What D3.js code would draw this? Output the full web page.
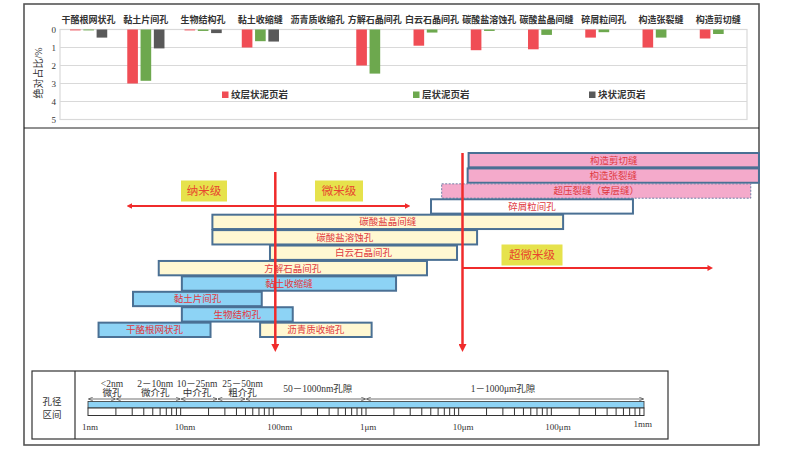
<!DOCTYPE html>
<html><head><meta charset="utf-8">
<script src="https://cdn.jsdelivr.net/npm/d3@7"></script>
<style>body{margin:0;background:#fff}svg{display:block}</style>
</head><body><svg id="c" width="793" height="452"></svg>
<script>
// ---------- top chart data ----------
const categories = ["干酪根网状孔","黏土片间孔","生物结构孔","黏土收缩缝","沥青质收缩孔","方解石晶间孔","白云石晶间孔","碳酸盐溶蚀孔","碳酸盐晶间缝","碎屑粒间孔","构造张裂缝","构造剪切缝"];
const seriesNames = ["纹层状泥页岩","层状泥页岩","块状泥页岩"];
const laminated = [0.05, 3.0, 0.05, 1.0, 0.02, 2.0, 0.9, 1.15, 1.1, 0.45, 1.0, 0.5];
const layered   = [0.05, 2.85, 0.08, 0.65, 0.02, 2.45, 0.17, 0.08, 0.3, 0.15, 0.45, 0.25];
const massive   = [0.45, 1.05, 0.2, 0.67, 0, 0, 0, 0, 0, 0, 0, 0];
const yTicks = [0,1,2,3,4,5];

// ---------- pore size range data (nm) ----------
const rangeNames = ["构造剪切缝","构造张裂缝","超压裂缝（穿层缝）","碎屑粒间孔","碳酸盐晶间缝","碳酸盐溶蚀孔","白云石晶间孔","方解石晶间孔","黏土收缩缝","黏土片间孔","生物结构孔","干酪根网状孔","沥青质收缩孔"];
const rangeMin = [12800, 12500, 6560, 5030, 22, 22, 92, 5.8, 10.3, 3.06, 10.3, 1.3, 72];
const rangeMax = [1.74e7, 1.74e7, 1.42e7, 7.6e5, 1.34e5, 15800, 9600, 4550, 2110, 75, 162, 21, 1150];
const rangeRow = [0,1,2,3,4,5,6,7,8,9,10,11,11];
const rangeType = ["tectonic","tectonic","overpressure","clastic","carbonate","carbonate","carbonate","carbonate","clay","clay","clay","clay","carbonate"];
const scaleBoundaries = [105, 11000];
const scaleLabels = ["纳米级","微米级","超微米级"];

// ---------- ruler data ----------
const rulerTicks = [1,10,100,1000,10000,100000,1000000];
const rulerTickLabels = ["1nm","10nm","100nm","1μm","10μm","100μm","1mm"];
const segBounds = [[1,2],[2,10],[10,25],[25,50],[50,1000],[1000,1000000]];
const segLine1 = ["<2nm","2－10nm","10－25nm","25－50nm","50－1000nm孔隙","1－1000μm孔隙"];
const segLine2 = ["微孔","微介孔","中介孔","粗介孔","",""];

const FONT = "'Liberation Serif','Noto Sans CJK SC',serif";
const svg = d3.select("#c");

// outer frame
svg.append("rect").attr("x",24).attr("y",4).attr("width",735).attr("height",441)
  .attr("fill","none").attr("stroke","#555").attr("stroke-width",1.6);
svg.append("line").attr("x1",24).attr("x2",759).attr("y1",128).attr("y2",128)
  .attr("stroke","#222").attr("stroke-width",1);

// ---------- top chart ----------
const x0 = d3.scaleBand().domain(categories).range([60,747]).paddingInner(0.35).paddingOuter(0.175);
const x1 = d3.scaleBand().domain(seriesNames).range([0,x0.bandwidth()]).paddingInner(0.2);
const y = d3.scaleLinear().domain([0,5]).range([29.5,119.5]);
const colors = d3.scaleOrdinal().domain(seriesNames).range(["#F04D55","#6DA84E","#595959"]);
const gTop = svg.append("g");
gTop.append("rect").attr("x",60).attr("y",y(0)).attr("width",687).attr("height",y(5)-y(0))
  .attr("fill","none").attr("stroke","#d9d9d9").attr("stroke-width",1.2);
gTop.selectAll(".grid").data(yTicks).join("line")
  .attr("x1",60).attr("x2",747).attr("y1",d=>y(d)).attr("y2",d=>y(d))
  .attr("stroke","#d9d9d9").attr("stroke-width",1.2);
gTop.selectAll(".yl").data(yTicks).join("text")
  .attr("x",56).attr("y",d=>y(d)).attr("dy","0.35em").attr("text-anchor","end")
  .attr("font-family",FONT).attr("font-size",9).attr("fill","#333").text(d=>d);
gTop.append("text").attr("transform","translate(38,73) rotate(-90)").attr("text-anchor","middle")
  .attr("dy","0.35em").attr("font-family",FONT).attr("font-size",10).attr("fill","#333").text("绝对占比/%");
gTop.selectAll(".cl").data(categories).join("text")
  .attr("x",d=>x0(d)+x0.bandwidth()/2).attr("y",20).attr("dy","0.35em").attr("text-anchor","middle")
  .attr("font-family",FONT).attr("font-size",9).attr("font-weight","bold").attr("fill","#333").text(d=>d);
const allSeries = [laminated, layered, massive];
seriesNames.forEach((s,si)=>{
  gTop.selectAll(".b"+si).data(categories).join("rect")
    .attr("x",c=>x0(c)+x1(s)).attr("width",x1.bandwidth())
    .attr("y",y(0)).attr("height",(c,i)=>Math.max(0,y(allSeries[si][i])-y(0)))
    .attr("fill",colors(s));
});
const legX = [222,413,589];
seriesNames.forEach((s,i)=>{
  gTop.append("rect").attr("x",legX[i]).attr("y",91.5).attr("width",6.5).attr("height",6.5).attr("fill",colors(s));
  gTop.append("text").attr("x",legX[i]+9).attr("y",95).attr("dy","0.35em")
    .attr("font-family",FONT).attr("font-size",9.5).attr("font-weight","bold").attr("fill","#333").text(s);
});

// ---------- pore size ranges ----------
const xs = d3.scaleLog().domain([1,1e6]).range([88,644]);
const yr = d3.scaleBand().domain(d3.range(12)).range([153,337]).paddingInner(0.07);
const fills = {clay:"#8DD3F5", carbonate:"#FFF8D2", clastic:"#FFFFFF", overpressure:"#F4AACB", tectonic:"#F4AACB"};
const defs = svg.append("defs");
defs.append("marker").attr("id","tri").attr("viewBox","0 0 10 10").attr("refX",5).attr("refY",5)
  .attr("markerWidth",3.2).attr("markerHeight",3.2).attr("orient","auto-start-reverse")
  .append("path").attr("d","M0,0 L10,5 L0,10 z").attr("fill","#F02B2B");
defs.append("marker").attr("id","open").attr("viewBox","0 0 10 10").attr("refX",9).attr("refY",5)
  .attr("markerWidth",5).attr("markerHeight",5).attr("orient","auto-start-reverse").attr("markerUnits","userSpaceOnUse")
  .append("path").attr("d","M0,1 L9,5 L0,9").attr("fill","none").attr("stroke","#333").attr("stroke-width",1.2);

const mid = svg.append("g");
const bars = rangeNames.map((n,i)=>({name:n,min:rangeMin[i],max:rangeMax[i],row:rangeRow[i],type:rangeType[i]}));
mid.selectAll(".rb").data(bars).join("rect")
  .attr("x",d=>xs(d.min)).attr("width",d=>xs(d.max)-xs(d.min))
  .attr("y",d=>yr(d.row)).attr("height",yr.bandwidth())
  .attr("fill",d=>fills[d.type])
  .attr("stroke",d=>d.type==="overpressure"?"#6D7FA6":"#4A7094")
  .attr("stroke-width",d=>d.type==="overpressure"?1:2)
  .attr("stroke-dasharray",d=>d.type==="overpressure"?"2,1.5":null);
mid.selectAll(".rt").data(bars).join("text")
  .attr("x",d=>(xs(d.min)+xs(d.max))/2).attr("y",d=>yr(d.row)+yr.bandwidth()/2).attr("dy","0.36em")
  .attr("text-anchor","middle").attr("font-family",FONT).attr("font-size",9.5).attr("fill","#E0393E").text(d=>d.name);

// red scale lines
const RED = "#F02B2B";
mid.append("line").attr("x1",xs(scaleBoundaries[0])).attr("x2",xs(scaleBoundaries[0]))
  .attr("y1",172).attr("y2",348).attr("stroke",RED).attr("stroke-width",2.5).attr("marker-end","url(#tri)");
mid.append("line").attr("x1",xs(scaleBoundaries[1])).attr("x2",xs(scaleBoundaries[1]))
  .attr("y1",153).attr("y2",348).attr("stroke",RED).attr("stroke-width",2.5).attr("marker-end","url(#tri)");
mid.append("line").attr("x1",xs(2.8)).attr("x2",xs(2800)).attr("y1",206).attr("y2",206)
  .attr("stroke",RED).attr("stroke-width",1.8).attr("marker-start","url(#tri)").attr("marker-end","url(#tri)");
mid.append("line").attr("x1",xs(scaleBoundaries[1])).attr("x2",xs(5.2e6)).attr("y1",268).attr("y2",268)
  .attr("stroke",RED).attr("stroke-width",1.8).attr("marker-end","url(#tri)");
const tagPos = [[204,191,46],[339,191,48],[532,255,61]];
scaleLabels.forEach((t,i)=>{
  const [cx,cy,w]=tagPos[i];
  mid.append("rect").attr("x",cx-w/2).attr("y",cy-10.5).attr("width",w).attr("height",21).attr("fill","#E6E24C");
  mid.append("text").attr("x",cx).attr("y",cy).attr("dy","0.36em").attr("text-anchor","middle")
    .attr("font-family",FONT).attr("font-size",11.5).attr("fill","#E8452F").text(t);
});

// ---------- ruler ----------
const rl = svg.append("g");
rl.append("rect").attr("x",32).attr("y",371).attr("width",636).attr("height",68)
  .attr("fill","none").attr("stroke","#333").attr("stroke-width",1.2);
rl.append("line").attr("x1",75).attr("x2",75).attr("y1",371).attr("y2",439).attr("stroke","#333").attr("stroke-width",1.2);
rl.append("text").attr("x",52).attr("y",402).attr("dy","0.35em").attr("text-anchor","middle")
  .attr("font-family",FONT).attr("font-size",9.5).attr("fill","#333").text("孔径");
rl.append("text").attr("x",52).attr("y",415).attr("dy","0.35em").attr("text-anchor","middle")
  .attr("font-family",FONT).attr("font-size",9.5).attr("fill","#333").text("区间");
rl.append("rect").attr("x",xs(1)).attr("y",401.5).attr("width",xs(1e6)-xs(1)).attr("height",6.5)
  .attr("fill","#8DD3F5").attr("stroke","#333").attr("stroke-width",0.8);
rl.append("rect").attr("x",xs(1)).attr("y",408).attr("width",xs(1e6)-xs(1)).attr("height",7.5)
  .attr("fill","#fff").attr("stroke","#333").attr("stroke-width",1);
const minor = [];
for (let d=1; d<1e6; d*=10) for (let k=2;k<=9;k++) minor.push(d*k);
rl.selectAll(".mt").data(minor.concat(rulerTicks.slice(1,-1))).join("line")
  .attr("x1",d=>xs(d)).attr("x2",d=>xs(d)).attr("y1",408).attr("y2",415.5)
  .attr("stroke","#333").attr("stroke-width",1);
rl.selectAll(".tl").data(rulerTicks).join("text")
  .attr("x",(d,i)=>i===rulerTicks.length-1?xs(d)+8:xs(d)-6)
  .attr("y",(d,i)=>i===rulerTicks.length-1?424:427).attr("dy","0.35em")
  .attr("text-anchor",(d,i)=>i===rulerTicks.length-1?"end":"start")
  .attr("font-family",FONT).attr("font-size",9).attr("fill","#333").text((d,i)=>rulerTickLabels[i]);
const labelShift = [10,7,-2,11,12,-2];
segBounds.forEach((b,i)=>{
  rl.append("line").attr("x1",xs(b[0])+0.5).attr("x2",xs(b[1])-0.5).attr("y1",399).attr("y2",399)
    .attr("stroke","#333").attr("stroke-width",0.7)
    .attr("marker-start","url(#open)").attr("marker-end","url(#open)");
  const cx = xs(Math.sqrt(b[0]*b[1])) + labelShift[i];
  if (segLine2[i]) {
    rl.append("text").attr("x",cx).attr("y",384).attr("dy","0.35em").attr("text-anchor","middle")
      .attr("font-family",FONT).attr("font-size",9.5).attr("fill","#333").text(segLine1[i]);
    rl.append("text").attr("x",cx).attr("y",393).attr("dy","0.35em").attr("text-anchor","middle")
      .attr("font-family",FONT).attr("font-size",9.5).attr("fill","#333").text(segLine2[i]);
  } else {
    rl.append("text").attr("x",cx).attr("y",389).attr("dy","0.35em").attr("text-anchor","middle")
      .attr("font-family",FONT).attr("font-size",9.5).attr("fill","#333").text(segLine1[i]);
  }
});
</script></body></html>
